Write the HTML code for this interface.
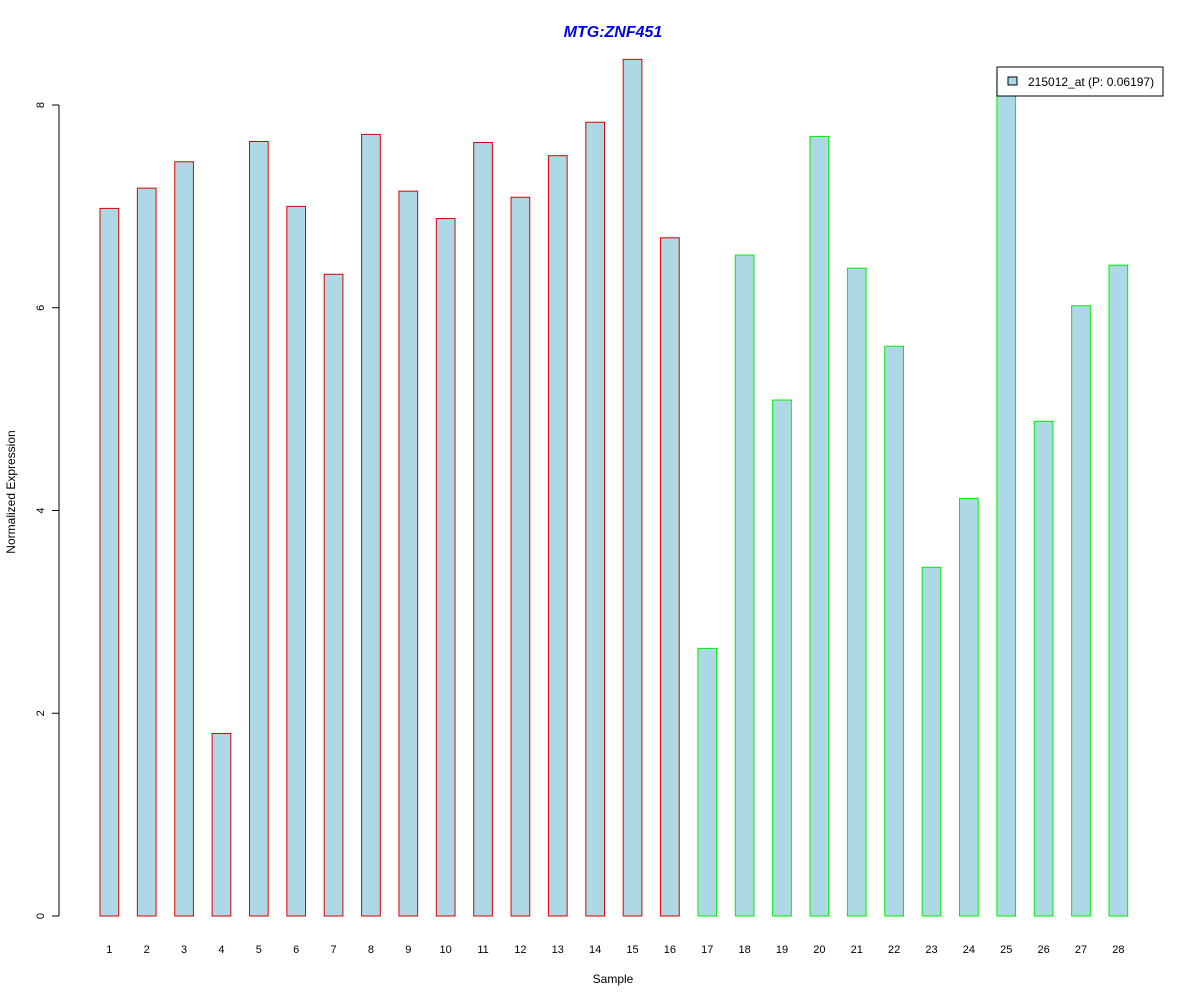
<!DOCTYPE html>
<html><head><meta charset="utf-8"><style>
body{margin:0;background:#fff}
svg text{font-family:"Liberation Sans",Arial,sans-serif}
</style></head><body>
<svg id="chart" width="1200" height="1000" xmlns="http://www.w3.org/2000/svg">
<rect width="1200" height="1000" fill="#fff"/>
<text x="613" y="37" text-anchor="middle" font-size="16" font-weight="bold" font-style="italic" fill="#0000ee">MTG:ZNF451</text>
<text x="613" y="983" text-anchor="middle" font-size="12">Sample</text>
<text x="15" y="492" text-anchor="middle" font-size="12" transform="rotate(-90 15 492)">Normalized Expression</text>
<g id="bars"></g>
<g id="yaxis"></g>
<g id="xlabels"></g>
<g>
<rect x="997" y="67" width="166" height="29" fill="#fff" stroke="#000"/>
<rect x="1008" y="77" width="9" height="8" fill="#add8e6" stroke="#000"/>
<text x="1028" y="86" font-size="12">215012_at (P: 0.06197)</text>
</g>
</svg>
<script>
const categories=["1","2","3","4","5","6","7","8","9","10","11","12","13","14","15","16","17","18","19","20","21","22","23","24","25","26","27","28"];
const values=[6.98,7.18,7.44,1.80,7.64,7.00,6.33,7.71,7.15,6.88,7.63,7.09,7.50,7.83,8.45,6.69,2.64,6.52,5.09,7.69,6.39,5.62,3.44,4.12,8.3,4.88,6.02,6.42];
const groups=[0,0,0,0,0,0,0,0,0,0,0,0,0,0,0,0,1,1,1,1,1,1,1,1,1,1,1,1];
const yTicks=[0,2,4,6,8];
const NS="http://www.w3.org/2000/svg";
function y(v){return 916-v*(916-105)/8;}
function x(i){return 100+i*37.37;}
const bw=18.7;
const bars=document.getElementById('bars');
values.forEach((v,i)=>{
 const r=document.createElementNS(NS,'rect');
 
 
 r.setAttribute('x',x(i));r.setAttribute('y',y(v));
 r.setAttribute('width',bw);r.setAttribute('height',y(0)-y(v));
 r.setAttribute('fill','#add8e6');
 r.setAttribute('stroke',groups[i]?'#00ee00':'#dd0000');
 bars.appendChild(r);
 const t=document.createElementNS(NS,'text');
 
 
 t.setAttribute('x',x(i)+bw/2);t.setAttribute('y',953);
 t.setAttribute('text-anchor','middle');t.setAttribute('font-size','11');
 t.textContent=categories[i];
 document.getElementById('xlabels').appendChild(t);
});
const ya=document.getElementById('yaxis');
const ax=document.createElementNS(NS,'line');


ax.setAttribute('x1',59);ax.setAttribute('x2',59);
ax.setAttribute('y1',y(0));ax.setAttribute('y2',y(8));
ax.setAttribute('stroke','#000');
ya.appendChild(ax);
yTicks.forEach(v=>{
 const l=document.createElementNS(NS,'line');
 
 
 l.setAttribute('x1',52);l.setAttribute('x2',59);
 l.setAttribute('y1',y(v));l.setAttribute('y2',y(v));
 l.setAttribute('stroke','#000');
 ya.appendChild(l);
 const t=document.createElementNS(NS,'text');
 
 
 t.setAttribute('x',44);t.setAttribute('y',y(v));
 t.setAttribute('text-anchor','middle');t.setAttribute('font-size','11');
 t.setAttribute('transform','rotate(-90 44 '+y(v)+')');
 t.textContent=v;
 ya.appendChild(t);
});
</script>
</body></html>
